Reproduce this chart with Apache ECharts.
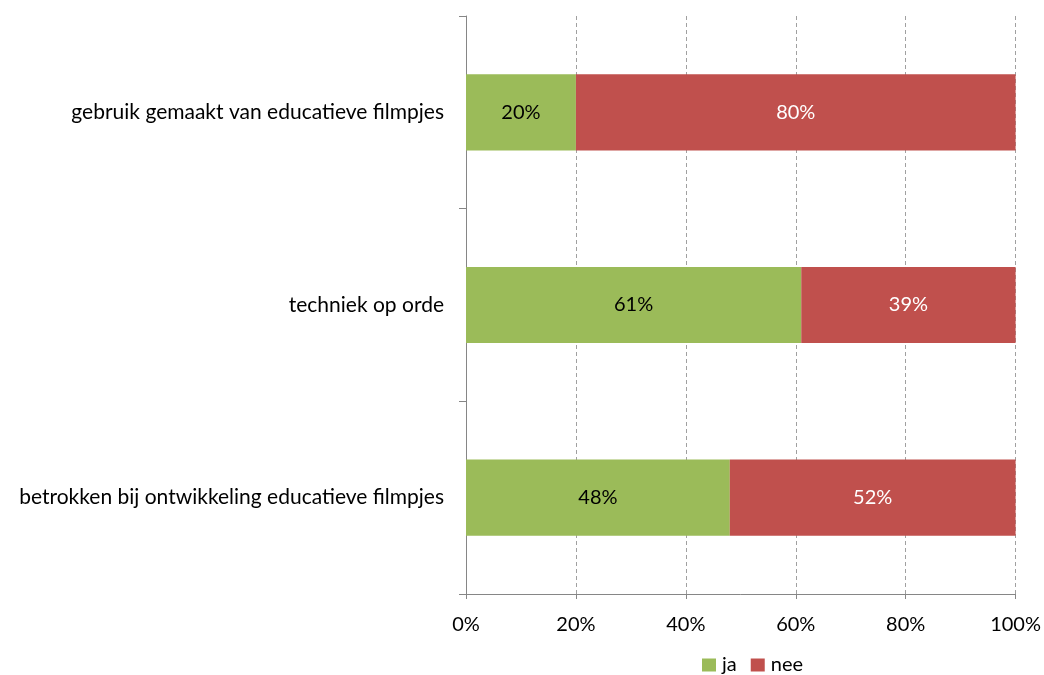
<!DOCTYPE html>
<html>
<head>
<meta charset="utf-8">
<script src="https://cdn.jsdelivr.net/npm/echarts@6/dist/echarts.min.js"></script>
<style>
  html, body { margin: 0; padding: 0; background: #ffffff; }
  #chart { width: 1044px; height: 675px; }
</style>
</head>
<body>
<div id="chart"></div>
<script>
// Survey answers per statement, top to bottom
const categories = [
  'gebruik gemaakt van educatieve filmpjes',
  'techniek op orde',
  'betrokken bij ontwikkeling educatieve filmpjes'
];
const jaValues = [20, 61, 48];
const neeValues = [80, 39, 52];
const xTicks = [0, 20, 40, 60, 80, 100];

const FONT = 'Lato, "Open Sans", sans-serif';
const FS = 20;
const axisGray = '#868686';

const chart = echarts.init(document.getElementById('chart'), null, { renderer: 'canvas' });

chart.setOption({
  animation: false,
  textStyle: { fontFamily: FONT },
  grid: { left: 466, right: 28, top: 16, bottom: 81, containLabel: false },
  legend: {
    data: ['ja', 'nee'],
    top: 655,
    left: 702,
    padding: 0,
    itemWidth: 14,
    itemHeight: 13,
    itemGap: 14,
    icon: 'rect',
    textStyle: { fontFamily: FONT, fontSize: FS, color: '#000', padding: [0, 0, 0, 1] }
  },
  xAxis: {
    type: 'value',
    min: xTicks[0],
    max: xTicks[xTicks.length - 1],
    interval: 20,
    axisLine: { show: true, lineStyle: { color: axisGray, width: 1 } },
    axisTick: { show: true, length: 5, lineStyle: { color: axisGray } },
    axisLabel: {
      margin: 21,
      fontFamily: FONT,
      fontSize: FS,
      color: '#000',
      formatter: v => v + '%'
    },
    splitLine: { show: true, lineStyle: { color: '#a0a0a0', type: [4, 3], width: 1 } }
  },
  yAxis: {
    type: 'category',
    data: categories,
    inverse: true,
    axisLine: { show: true, lineStyle: { color: axisGray, width: 1 } },
    axisTick: { show: true, length: 7, alignWithLabel: false, lineStyle: { color: axisGray } },
    axisLabel: { margin: 22, fontFamily: FONT, fontSize: 21, color: '#000' },
    splitLine: { show: false }
  },
  series: [
    {
      name: 'ja',
      type: 'bar',
      stack: 'total',
      data: jaValues,
      barWidth: '39.5%',
      itemStyle: { color: '#9bbb59' },
      label: {
        show: true, position: 'inside', formatter: '{c}%',
        fontFamily: FONT, fontSize: FS, color: '#000'
      }
    },
    {
      name: 'nee',
      type: 'bar',
      stack: 'total',
      data: neeValues,
      barWidth: '39.5%',
      itemStyle: { color: '#c0504d' },
      label: {
        show: true, position: 'inside', formatter: '{c}%',
        fontFamily: FONT, fontSize: FS, color: '#fff'
      }
    }
  ]
});
</script>
</body>
</html>
